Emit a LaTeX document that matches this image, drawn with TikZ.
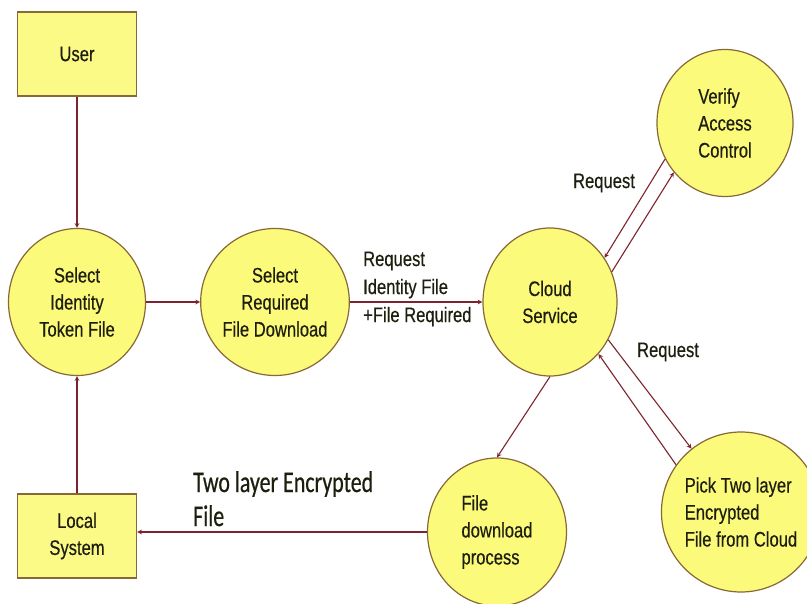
\documentclass[tikz,border=0pt]{standalone}
\usepackage{fontspec}
\setmainfont{Liberation Sans}[FakeStretch=0.79,FakeBold=0.4]
\newfontfamily\labelfont{Carlito}[FakeStretch=0.73,FakeBold=0.5]
\usepackage{xcolor}
\usetikzlibrary{shapes,positioning}
\definecolor{procfill}{RGB}{252,250,122}
\definecolor{procline}{RGB}{135,105,55}
\definecolor{flowline}{RGB}{125,35,45}
\definecolor{txt}{RGB}{30,30,15}
\tikzset{proc/.style={ellipse,draw=procline,fill=procfill,line width=1.2pt,inner sep=0pt,minimum width=137pt,minimum height=147pt,align=center,text=txt,font=\fontsize{21}{27}\selectfont}}
\tikzset{ext/.style={rectangle,draw=procline,fill=procfill!90!white,line width=1.4pt,inner sep=0pt,minimum width=119pt,minimum height=84pt,align=center,text=txt,font=\fontsize{21}{27}\selectfont}}
\tikzset{flow/.style={->,draw=flowline,line width=1.1pt}}
\tikzset{lbl/.style={inner sep=0pt,text=txt,font=\fontsize{21}{28}\selectfont}}

\begin{document}
\begin{tikzpicture}[>=stealth,x=1pt,y=-1pt]
        \useasboundingbox (0,0) rectangle (807,604);

        \node[ext] (a) at (77,54) {User};
        \node[proc] (b) at (77,302) {Select\\Identity\\Token File};
        \node[proc] (c) at (275,302) {Select\\Required\\File Download};
        \node[proc,minimum width=134pt,minimum height=148pt] (d) at (550,302) {Cloud\\Service};
        \node[proc,minimum width=136pt,align=left] (e) at (725,123) {Verify\\Access\\Control};
        \node[proc,minimum width=138pt,minimum height=160pt,align=left] (f) at (741,512) {Pick Two layer\\Encrypted\\File from Cloud};
        \node[proc,minimum width=139pt,minimum height=148pt,align=left] (g) at (497,532) {File\\download\\process};
        \node[ext] (h) at (77,536) {Local\\System};

        % labels on the flows
        \node[lbl,anchor=west,align=left] (r1) at (363,289) {Request\\Identity File\\+File Required};
        \node[lbl] (r2) at (604,183) {Request};
        \node[lbl] (r3) at (668,352) {Request};
        \node[inner sep=0pt,anchor=north west,align=left,text=txt,font=\labelfont\fontsize{30}{34}\selectfont] (r4) at (193,471) {Two layer Encrypted\\File};

        \draw [flow] (a) to (b);
        \draw [flow] (h) to (b);
        \draw [flow] (b) to (c);
        \draw [flow] (c) to (d);
        \draw [flow] (e.211) to (d.39);
        \draw [flow] (d.26) to (e.224);
        \draw [flow] (d.327) to (f.128);
        \draw [flow] (f.144) to (d.313);
        \draw [flow] (d.270) to (g.90);
        \draw [flow] (g.west) to (h.east |- g.west);
    \end{tikzpicture}
\end{document}
